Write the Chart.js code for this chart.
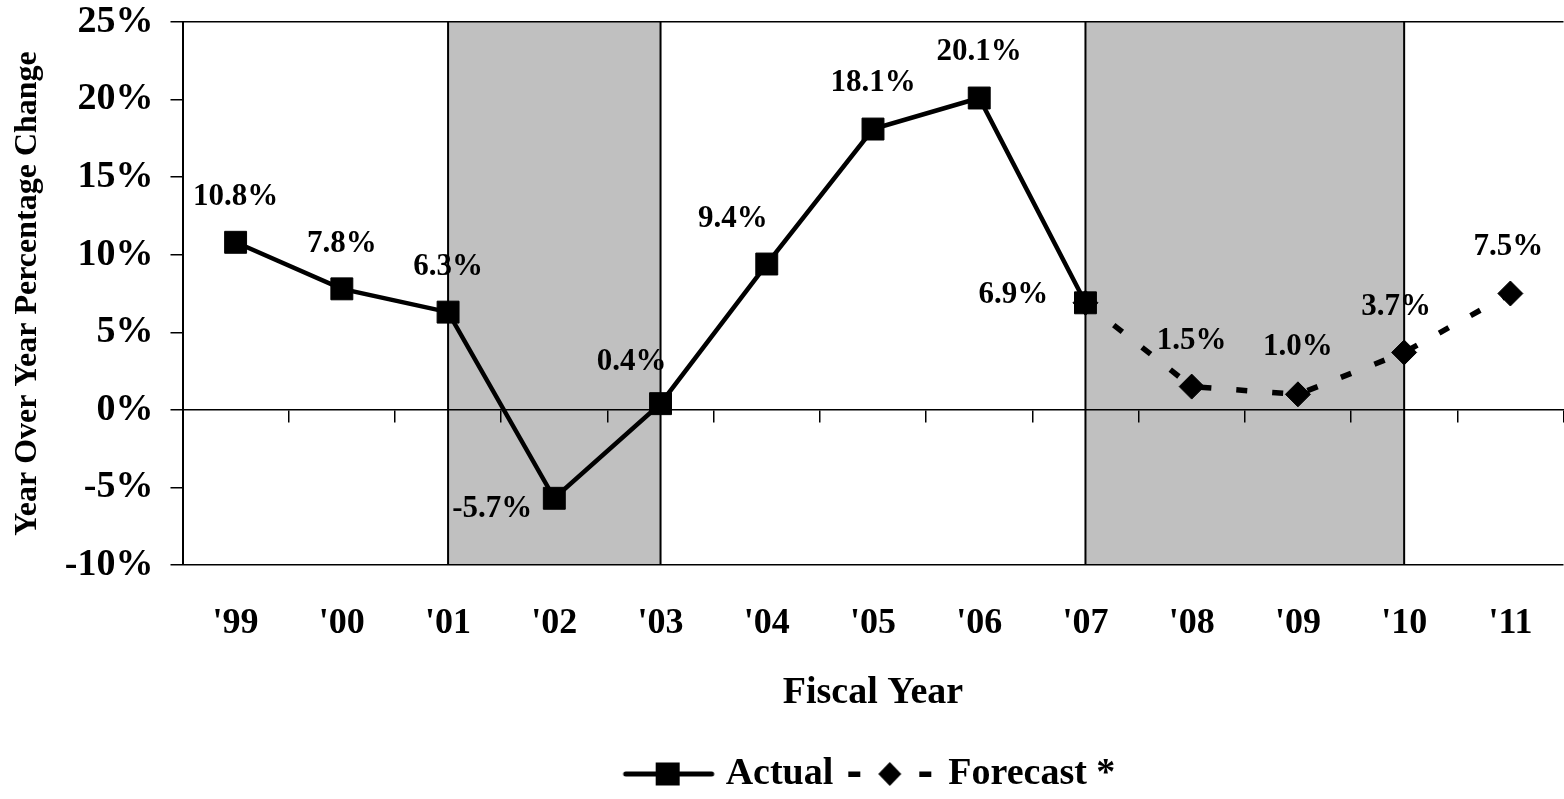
<!DOCTYPE html>
<html>
<head>
<meta charset="utf-8">
<title>Year Over Year Percentage Change</title>
<script src="https://cdn.jsdelivr.net/npm/chart.js@4.4.1/dist/chart.umd.min.js"></script>
<style>
    html, body { margin: 0; padding: 0; background: #ffffff; overflow: hidden; }
    #wrap { width: 1580px; height: 799px; }
</style>
</head>
<body>
<div id="wrap"><canvas id="growthChart" width="1580" height="799"></canvas></div>
<script>
// =====================
// DATA
// =====================
const years = ["'99", "'00", "'01", "'02", "'03", "'04", "'05", "'06", "'07", "'08", "'09", "'10", "'11"];
const actual = [10.8, 7.8, 6.3, -5.7, 0.4, 9.4, 18.1, 20.1, 6.9, null, null, null, null];
const forecast = [null, null, null, null, null, null, null, null, 6.9, 1.5, 1.0, 3.7, 7.5];
// shaded periods, from / to category
const shadeFrom = ["'01", "'07"];
const shadeTo = ["'03", "'10"];

// label placement relative to each point (style only)
const labelOffsets = [
    [0, -45], [0, -45], [0, -45], [-62, 11], [-29, -42], [-34, -45], [0, -46],
    [0, -46], [-72, -8], [0, -46], [0, -47], [-8, -45], [-2, -47]
];

const FONT = "'Liberation Serif', 'Times New Roman', serif";
Chart.defaults.font.family = FONT;
Chart.defaults.font.weight = 'bold';
Chart.defaults.color = '#000';

// =====================
// PLUGINS
// =====================

// grey bands behind everything, drawn before scales so axis lines sit on top
const shadePlugin = {
    id: 'shade',
    beforeDraw(chart) {
        const x = chart.scales.x;
        const area = chart.chartArea;
        const ctx = chart.ctx;
        ctx.save();
        for (let i = 0; i < shadeFrom.length; i++) {
            const x1 = x.getPixelForValue(years.indexOf(shadeFrom[i]));
            const x2 = x.getPixelForValue(years.indexOf(shadeTo[i]));
            ctx.fillStyle = '#c0c0c0';
            ctx.fillRect(x1, area.top, x2 - x1, area.bottom - area.top);
            ctx.strokeStyle = '#000';
            ctx.lineWidth = 2;
            ctx.beginPath();
            ctx.moveTo(x1, area.top); ctx.lineTo(x1, area.bottom);
            ctx.moveTo(x2, area.top); ctx.lineTo(x2, area.bottom);
            ctx.stroke();
        }
        ctx.restore();
    }
};

const valueLabelPlugin = {
    id: 'valueLabels',
    afterDatasetsDraw(chart) {
        const ctx = chart.ctx;
        ctx.save();
        ctx.font = 'bold 31px ' + FONT;
        ctx.fillStyle = '#000';
        ctx.textAlign = 'center';
        ctx.textBaseline = 'middle';
        chart.data.datasets.forEach((ds, di) => {
            const meta = chart.getDatasetMeta(di);
            ds.data.forEach((v, i) => {
                if (v === null) return;
                // the joining point is labelled once, by the actual series
                if (di === 1 && actual[i] !== null) return;
                const pt = meta.data[i];
                const off = labelOffsets[i];
                ctx.fillText(v.toFixed(1) + '%', pt.x + off[0], pt.y + off[1]);
            });
        });
        ctx.restore();
    }
};

// legend samples: line + marker, like the original
function legendSample(kind) {
    const c = document.createElement('canvas');
    c.width = 94;
    c.height = 26;
    const g = c.getContext('2d');
    g.fillStyle = '#000';
    g.strokeStyle = '#000';
    if (kind === 'actual') {
        g.lineWidth = 5;
        g.lineCap = 'round';
        g.beginPath();
        g.moveTo(4, 13); g.lineTo(90, 13);
        g.stroke();
        g.fillRect(34, 1.5, 24, 23);
    } else {
        g.fillRect(4, 10.5, 12, 5.5);
        g.fillRect(75, 10.5, 12, 5.5);
        g.beginPath();
        g.moveTo(45.5, 1); g.lineTo(57, 13); g.lineTo(45.5, 25); g.lineTo(34, 13);
        g.closePath();
        g.fill();
    }
    return c;
}

// =====================
// CHART
// =====================
function renderChart() {
    const ctx = document.getElementById('growthChart').getContext('2d');
    const sampleActual = legendSample('actual');
    const sampleForecast = legendSample('forecast');

    new Chart(ctx, {
        type: 'line',
        data: {
            labels: years,
            datasets: [
                {
                    label: 'Actual',
                    data: actual,
                    xAxisID: 'x',
                    borderColor: '#000',
                    backgroundColor: '#000',
                    borderWidth: 4.5,
                    pointStyle: 'rect',
                    pointRadius: 15.5,
                    pointBorderWidth: 1,
                    tension: 0,
                    order: 0
                },
                {
                    label: 'Forecast *',
                    data: forecast,
                    xAxisID: 'x',
                    borderColor: '#000',
                    backgroundColor: '#000',
                    borderWidth: 5.5,
                    borderDash: [11, 25],
                    borderCapStyle: 'butt',
                    pointStyle: 'rectRot',
                    pointRadius: 12.5,
                    pointBorderWidth: 1,
                    tension: 0,
                    order: 1
                }
            ]
        },
        options: {
            responsive: false,
            animation: false,
            layout: { padding: { left: 8, right: 9, top: 22, bottom: -4 } },
            plugins: {
                tooltip: { enabled: false },
                legend: {
                    position: 'bottom',
                    fullSize: false,
                    labels: {
                        usePointStyle: true,
                        pointStyleWidth: 76,
                        padding: 20,
                        color: '#000',
                        font: { size: 38, weight: 'bold' },
                        generateLabels: () => [
                            { text: 'Actual', pointStyle: sampleActual, fontColor: '#000', hidden: false, datasetIndex: 0, lineWidth: 0 },
                            { text: 'Forecast *', pointStyle: sampleForecast, fontColor: '#000', hidden: false, datasetIndex: 1, lineWidth: 0 }
                        ]
                    }
                }
            },
            scales: {
                x: {
                    type: 'category',
                    position: 'bottom',
                    offset: true,
                    grid: { display: false, drawTicks: false },
                    border: { display: false },
                    ticks: { font: { size: 36, weight: 'bold' }, color: '#000', padding: 37, maxRotation: 0, autoSkip: false },
                    title: {
                        display: true,
                        text: 'Fiscal Year',
                        color: '#000',
                        font: { size: 38, weight: 'bold', lineHeight: 1 },
                        padding: { top: 0, bottom: 23 }
                    },
                    afterFit: (scale) => { scale.height = 170; }
                },
                // category axis crossing at 0%, gives the zero line and its ticks
                x2: {
                    type: 'category',
                    position: { y: 0 },
                    offset: true,
                    ticks: { display: false },
                    grid: { drawOnChartArea: false, offset: true, tickLength: 12, color: '#000', lineWidth: 1.5 },
                    border: { color: '#000', width: 1.5 }
                },
                y: {
                    min: -10,
                    max: 25,
                    ticks: {
                        stepSize: 5,
                        font: { size: 38, weight: 'bold' },
                        color: '#000',
                        padding: 17,
                        callback: (v) => v + '%'
                    },
                    grid: {
                        drawOnChartArea: true,
                        tickLength: 12,
                        lineWidth: 1.5,
                        tickColor: '#000',
                        color: (c) => (c.tick && (c.tick.value === 25 || c.tick.value === -10)) ? '#000' : 'rgba(0,0,0,0)'
                    },
                    border: { color: '#000', width: 2 },
                    title: {
                        display: true,
                        text: 'Year Over Year Percentage Change',
                        color: '#000',
                        font: { size: 32, weight: 'bold', lineHeight: 1 },
                        padding: { top: 4, bottom: 0 }
                    },
                    afterFit: (scale) => {
                        scale.width = 174.5;
                        // plot area edges are set by layout padding, not by label overhang
                        scale.paddingTop = 0;
                        scale.paddingBottom = 0;
                    }
                }
            }
        },
        plugins: [shadePlugin, valueLabelPlugin]
    });
}

document.addEventListener('DOMContentLoaded', renderChart);
</script>
</body>
</html>
